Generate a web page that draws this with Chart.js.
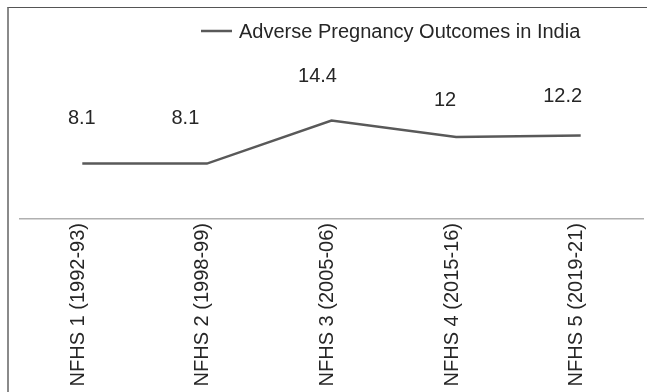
<!DOCTYPE html>
<html>
<head>
<meta charset="utf-8">
<script src="https://cdn.jsdelivr.net/npm/chart.js@4/dist/chart.umd.min.js"></script>
<style>
  body { margin: 0; background: #fff; }
  #wrap { position: relative; width: 647px; height: 392px; overflow: hidden; }
  #frame {
    position: absolute; left: 7px; top: 7px; width: 660px; height: 420px;
    border-top: 1px solid #555; border-left: 2px solid #8a8a8a;
  }
  #c { position: absolute; left: 0; top: 0; }
</style>
</head>
<body>
<div id="wrap">
  <div id="frame"></div>
  <canvas id="c" width="647" height="392"></canvas>
</div>
<script>
// NFHS rounds and adverse pregnancy outcomes (%)
const surveys = ['NFHS 1 (1992-93)', 'NFHS 2 (1998-99)', 'NFHS 3 (2005-06)', 'NFHS 4 (2015-16)', 'NFHS 5 (2019-21)'];
const outcomes = [8.1, 8.1, 14.4, 12, 12.2];
const seriesName = 'Adverse Pregnancy Outcomes in India';

const lineColor = '#595959';
const textColor = '#262626';
const font = 'Liberation Sans, Arial, sans-serif';

// value labels sit well above each point, a little left like the original
const valueLabels = {
    id: 'valueLabels',
    afterDatasetsDraw(chart, args, opts) {
        const ctx = chart.ctx;
        const meta = chart.getDatasetMeta(0);
        ctx.save();
        ctx.font = '20px ' + font;
        ctx.fillStyle = textColor;
        ctx.textAlign = 'center';
        ctx.textBaseline = 'middle';
        meta.data.forEach((pt, i) => {
            ctx.fillText(String(chart.data.datasets[0].data[i]), pt.x + opts.dx[i], pt.y + opts.dy[i]);
        });
        ctx.restore();
    }
};

// legend drawn by hand since it is off-centre
const sideLegend = {
    id: 'sideLegend',
    afterDraw(chart, args, opts) {
        const ctx = chart.ctx;
        const ds = chart.data.datasets[0];
        ctx.save();
        ctx.strokeStyle = ds.borderColor;
        ctx.lineWidth = ds.borderWidth;
        ctx.beginPath();
        ctx.moveTo(opts.x, opts.y);
        ctx.lineTo(opts.x + 31, opts.y);
        ctx.stroke();
        ctx.font = '20px ' + font;
        ctx.fillStyle = textColor;
        ctx.textBaseline = 'middle';
        ctx.fillText(ds.label, opts.x + 38, opts.y + 1);
        ctx.restore();
    }
};

new Chart('c', {
    type: 'line',
    data: {
        labels: surveys,
        datasets: [{
            label: seriesName,
            data: outcomes,
            borderColor: lineColor,
            borderWidth: 2.5,
            pointRadius: 0,
            tension: 0,
            fill: false
        }]
    },
    plugins: [valueLabels, sideLegend],
    options: {
        responsive: false,
        animation: false,
        layout: {
            padding: { left: 20, right: 4, top: 48, bottom: 2 }
        },
        scales: {
            x: {
                offset: true,
                grid: { display: false, drawTicks: false },
                border: { display: true, color: '#b0b0b0', width: 1.5 },
                ticks: {
                    minRotation: 90,
                    maxRotation: 90,
                    padding: 4,
                    labelOffset: -4,
                    color: textColor,
                    font: { family: font, size: 20 }
                }
            },
            y: {
                display: false,
                min: 0,
                max: 25
            }
        },
        plugins: {
            legend: { display: false },
            tooltip: { enabled: false },
            valueLabels: {
                dx: [-0.5, -21.5, -14, -11, -18],
                dy: [-45, -45, -44.5, -36.5, -39.5]
            },
            sideLegend: { x: 201, y: 31 }
        }
    }
});
</script>
</body>
</html>
